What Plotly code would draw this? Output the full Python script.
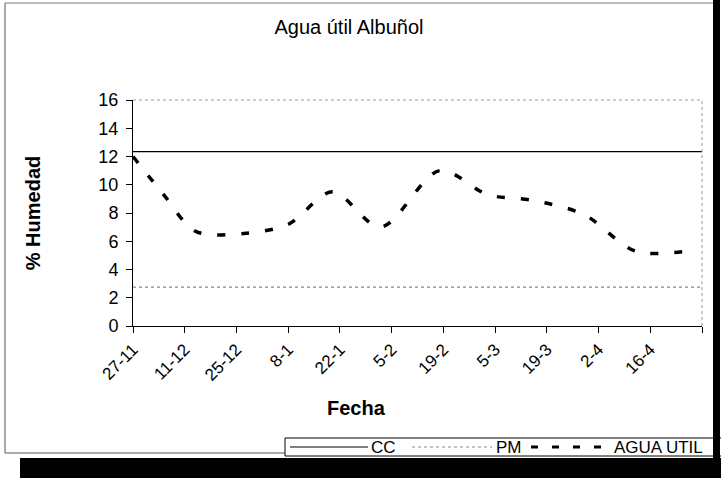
import plotly.graph_objects as go

# ---- data ----
fechas = ["2002-11-27", "2002-12-05", "2002-12-14", "2002-12-27", "2003-01-08",
          "2003-01-20", "2003-02-02", "2003-02-18", "2003-03-03", "2003-03-15",
          "2003-03-29", "2003-04-12", "2003-04-26"]
agua_util = [12.0, 9.4, 6.7, 6.55, 7.2, 9.5, 7.0, 11.0, 9.3, 8.9, 7.9, 5.3, 5.3]

cc_valor = 12.35
pm_valor = 2.75
rango_fechas = ["2002-11-27", "2003-04-30"]

tick_fechas = ["2002-11-27", "2002-12-11", "2002-12-25", "2003-01-08", "2003-01-22",
               "2003-02-05", "2003-02-19", "2003-03-05", "2003-03-19", "2003-04-02",
               "2003-04-16", "2003-04-30"]
tick_textos = ["27-11", "11-12", "25-12", "8-1", "22-1", "5-2", "19-2", "5-3",
               "19-3", "2-4", "16-4", ""]

series_nombres = ["CC", "PM", "AGUA UTIL"]

W, H = 721, 478
L, R, T, B = 133, 19, 100, 152
PW, PH = W - L - R, H - T - B

def px(x):
    return (x - L) / PW

def py(y):
    return (H - B - y) / PH

FONT = "Liberation Sans, Arial, sans-serif"

cc_line = dict(color="black", width=1.2)
pm_line = dict(color="#888888", width=1.2, dash="dot")
au_line = dict(color="black", width=3.5, dash="8px,16px")

fig = go.Figure()
fig.add_trace(go.Scatter(x=rango_fechas, y=[cc_valor, cc_valor], mode="lines",
                         name=series_nombres[0], line=cc_line))
fig.add_trace(go.Scatter(x=rango_fechas, y=[pm_valor, pm_valor], mode="lines",
                         name=series_nombres[1], line=pm_line))
fig.add_trace(go.Scatter(x=fechas, y=agua_util, mode="lines", name=series_nombres[2],
                         line=dict(**au_line, shape="spline", smoothing=0.9)))

shapes = [
    # plot-area dotted border (top, right)
    dict(type="line", xref="paper", yref="paper", x0=0, x1=1, y0=1, y1=1,
         line=dict(color="#999999", width=1, dash="dot")),
    dict(type="line", xref="paper", yref="paper", x0=1, x1=1, y0=0, y1=1,
         line=dict(color="#999999", width=1, dash="dot")),
    # chart frame
    dict(type="line", xref="paper", yref="paper", x0=px(5), x1=px(5), y0=py(3), y1=py(453),
         line=dict(color="#555555", width=1)),
    dict(type="line", xref="paper", yref="paper", x0=px(5), x1=px(716), y0=py(3), y1=py(3),
         line=dict(color="#777777", width=1)),
    dict(type="line", xref="paper", yref="paper", x0=px(5), x1=px(716), y0=py(453), y1=py(453),
         line=dict(color="#555555", width=1)),
    # legend box
    dict(type="rect", xref="paper", yref="paper", x0=px(285), x1=px(722), y0=py(438), y1=py(456),
         line=dict(color="black", width=1), fillcolor="white"),
    # legend samples
    dict(type="line", xref="paper", yref="paper", x0=px(290), x1=px(368), y0=py(447), y1=py(447),
         line=cc_line),
    dict(type="line", xref="paper", yref="paper", x0=px(412), x1=px(492), y0=py(447), y1=py(447),
         line=pm_line),
    dict(type="line", xref="paper", yref="paper", x0=px(531), x1=px(614), y0=py(447), y1=py(447),
         line=dict(color="black", width=3, dash="7px,14px")),
    # shadow
    dict(type="rect", xref="paper", yref="paper", x0=px(20), x1=px(722), y0=py(458), y1=py(479),
         fillcolor="black", line=dict(width=0)),
    dict(type="line", xref="paper", yref="paper", x0=px(716.5), x1=px(716.5),
         y0=py(0), y1=py(478), line=dict(color="black", width=7)),
]

annotations = [
    dict(text="<b>Fecha</b>", xref="paper", yref="paper", x=px(356), y=py(408),
         xanchor="center", yanchor="middle", showarrow=False, font=dict(size=20)),
    dict(text=series_nombres[0], xref="paper", yref="paper", x=px(369), y=py(447),
         xanchor="left", yanchor="middle", showarrow=False, font=dict(size=17)),
    dict(text=series_nombres[1], xref="paper", yref="paper", x=px(494), y=py(447),
         xanchor="left", yanchor="middle", showarrow=False, font=dict(size=17)),
    dict(text=series_nombres[2], xref="paper", yref="paper", x=px(612), y=py(447),
         xanchor="left", yanchor="middle", showarrow=False, font=dict(size=17)),
]

fig.update_layout(
    width=W, height=H,
    margin=dict(l=L, r=R, t=T, b=B, autoexpand=False),
    paper_bgcolor="white", plot_bgcolor="white",
    font=dict(family=FONT, color="black", size=16),
    title=dict(text="Agua útil Albuñol", x=349 / W, xanchor="center",
               y=1 - 27 / H, yanchor="middle", font=dict(size=20)),
    showlegend=False,
    shapes=shapes,
    annotations=annotations,
)

fig.update_xaxes(type="date", range=rango_fechas, tickmode="array",
                 tickvals=tick_fechas, ticktext=tick_textos, tickangle=-45,
                 ticks="outside", ticklen=6, tickcolor="black",
                 showline=True, linecolor="black", linewidth=1,
                 showgrid=False, zeroline=False,
                 tickfont=dict(size=17))
fig.update_yaxes(range=[0, 16], dtick=2, ticks="outside", ticklen=6, tickcolor="black",
                 showline=True, linecolor="black", linewidth=1,
                 showgrid=False, zeroline=False,
                 tickfont=dict(size=18), ticklabelstandoff=4,
                 title=dict(text="<b>% Humedad</b>", font=dict(size=20), standoff=52))

fig.write_html(
    "out.html",
    config={"displayModeBar": False},
    post_script=("document.body.style.margin='0';"
                 "document.body.style.overflow='hidden';"
                 "document.documentElement.style.overflow='hidden';"),
)
